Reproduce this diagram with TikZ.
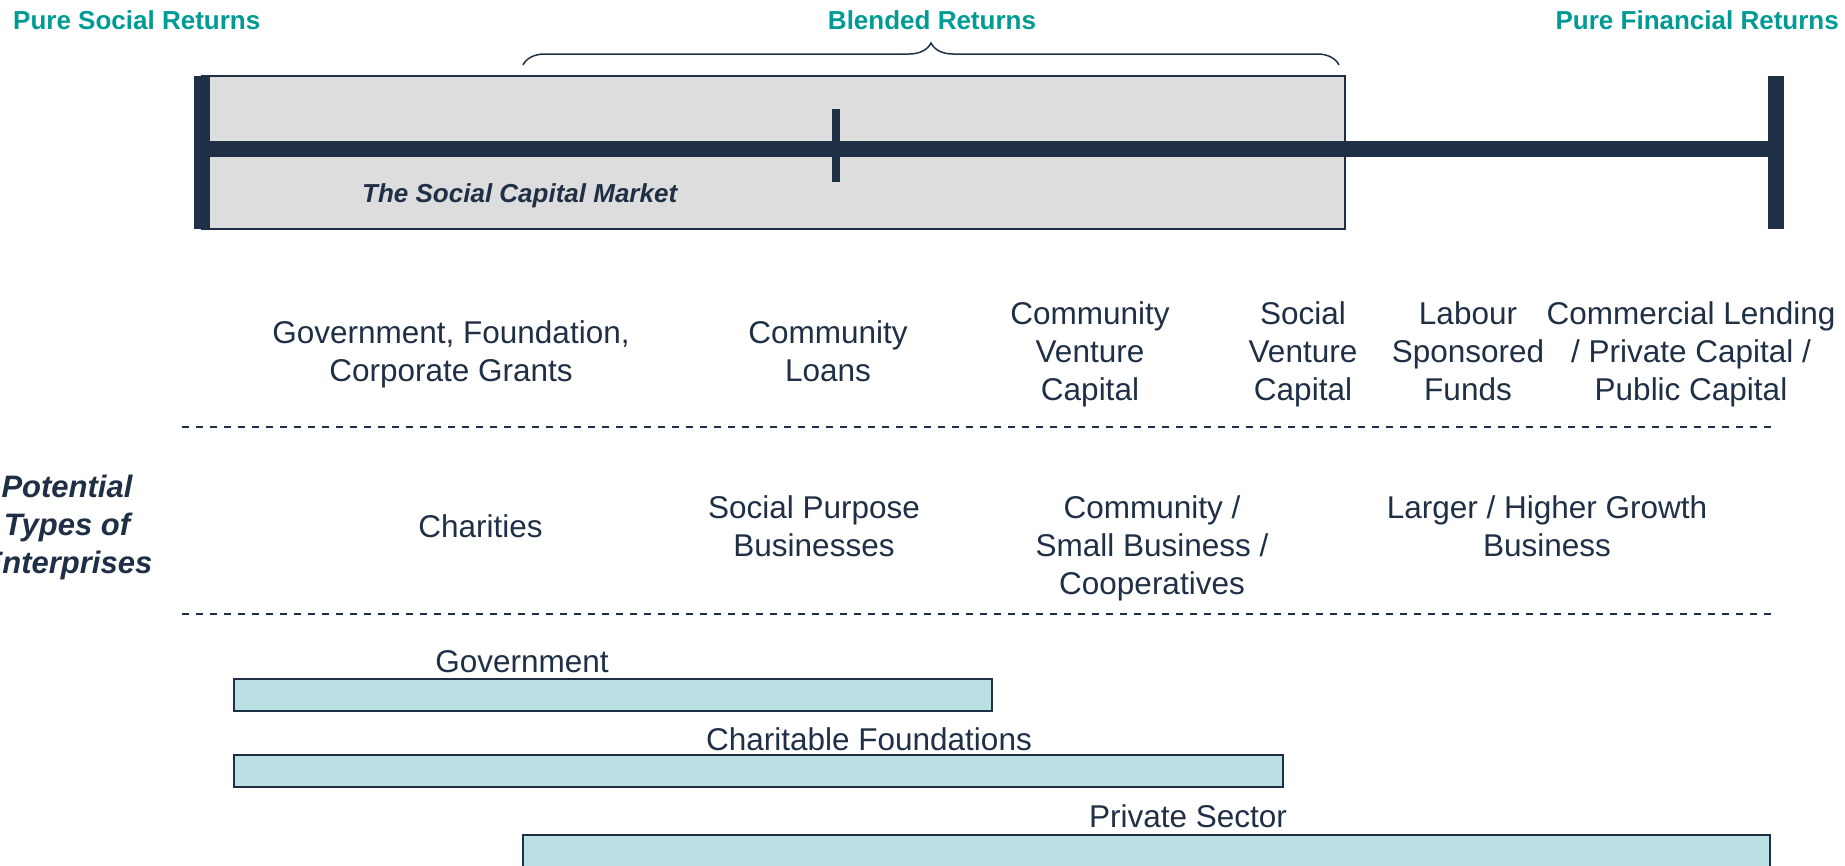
\documentclass[tikz,border=0pt]{standalone}
\usepackage{fontspec}
\setmainfont{Liberation Sans}
\usetikzlibrary{decorations.pathreplacing}
\definecolor{navy}{RGB}{31,47,69}
\definecolor{tealh}{RGB}{0,155,148}
\definecolor{boxgray}{RGB}{221,221,221}
\definecolor{barfill}{RGB}{186,224,227}
\begin{document}
\begin{tikzpicture}[x=1pt,y=-1pt,
 hdr/.style={font=\fontsize{26}{30}\selectfont\bfseries, text=tealh, inner sep=0pt},
 lbl/.style={font=\fontsize{31.5}{38}\selectfont, text=navy, align=center, inner sep=0pt, anchor=north},
 lblone/.style={font=\fontsize{31.5}{38}\selectfont, text=navy, inner sep=0pt, anchor=base},
 sidelbl/.style={font=\fontsize{31}{38}\selectfont\bfseries\itshape, text=navy, align=center, inner sep=0pt, anchor=north},
 barbox/.style={draw=navy, line width=1.8pt, fill=barfill},
 axisline/.style={draw=navy, line width=16pt},
 sepline/.style={draw=navy, line width=1.8pt, dash pattern=on 7pt off 7pt}]
\useasboundingbox (0,0) rectangle (1845,865);
\clip (0,0) rectangle (1845,865);

% headers
\node[hdr, anchor=base west] (psr) at (13,29) {Pure Social Returns};
\node[hdr, anchor=base] (blr) at (932,29) {Blended Returns};
\node[hdr, anchor=base east] (pfr) at (1839,29) {Pure Financial Returns};

% brace
\coordinate (brL) at (523,65);
\coordinate (brR) at (1339,65);
\draw[navy, line width=1.5pt, decorate, decoration={brace, amplitude=22pt}] (brL) -- (brR);

% social capital market box
\filldraw[fill=boxgray, draw=navy, line width=1.5pt] (202,76) rectangle (1345,229);
\coordinate (lbT) at (202,76);
\coordinate (lbB) at (202,229);
\coordinate (rbT) at (1776,76);
\coordinate (rbB) at (1776,229);
\coordinate (axL) at (202,149);
\coordinate (axR) at (1776,149);
\coordinate (tkT) at (836,109);
\coordinate (tkB) at (836,182);
\draw[axisline] (axL) -- (axR);
\draw[axisline] (lbT) -- (lbB);
\draw[axisline] (rbT) -- (rbB);
\draw[draw=navy, line width=8pt] (tkT) -- (tkB);
\node[font=\fontsize{26}{30}\selectfont\bfseries\itshape, text=navy, inner sep=0pt, anchor=base west] (scm) at (362,202) {The Social Capital Market};

% funding types
\node[lbl] (gfcg) at (451,316.4) {\strut Government, Foundation,\\Corporate Grants};
\node[lbl] (cloans) at (828,316.4) {\strut Community\\Loans};
\node[lbl] (cvc) at (1090,297.4) {\strut Community\\Venture\\Capital};
\node[lbl] (svc) at (1303,297.4) {\strut Social\\Venture\\Capital};
\node[lbl] (lsf) at (1468,297.4) {\strut Labour\\Sponsored\\Funds};
\node[lbl] (clpc) at (1691,297.4) {\strut Commercial Lending\\/ Private Capital /\\Public Capital};

% separators
\coordinate (s1L) at (182,427);
\coordinate (s1R) at (1771,427);
\coordinate (s2L) at (182,614);
\coordinate (s2R) at (1771,614);
\draw[sepline] (s1L) -- (s1R);
\draw[sepline] (s2L) -- (s2R);

% enterprise types
\node[sidelbl] (pte) at (67,470.4) {\strut Potential\\Types of\\Enterprises};
\node[lblone] (char) at (480.5,537) {Charities};
\node[lbl] (spb) at (814,491.4) {\strut Social Purpose\\Businesses};
\node[lbl] (csbc) at (1152,491.4) {\strut Community /\\Small Business /\\Cooperatives};
\node[lbl] (lhgb) at (1547,491.4) {\strut Larger / Higher Growth\\Business};

% sector bars
\node[lblone] (govl) at (522,672) {Government};
\filldraw[barbox] (234,679) rectangle (992,711);
\node[lblone] (cfl) at (869,750) {Charitable Foundations};
\filldraw[barbox] (234,755) rectangle (1283,787);
\node[lblone] (psl) at (1188,827) {Private Sector};
\filldraw[barbox] (523,835) rectangle (1770,900);
\end{tikzpicture}
\end{document}
